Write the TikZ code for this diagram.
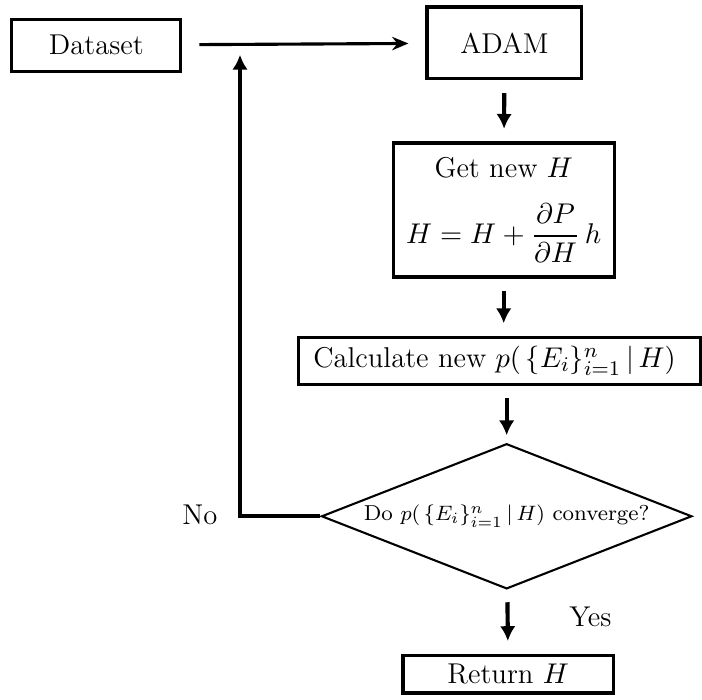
\documentclass[tikz,border=0pt]{standalone}
\usepackage{amsmath}
\usetikzlibrary{shapes.geometric, arrows.meta, positioning, calc}

\begin{document}
\begin{tikzpicture}[
    % Node styles
    every node/.style={
        font=\fontsize{11}{13.5}\selectfont
    },
    procbox/.style={
        rectangle,
        draw=black,
        very thick,
        inner sep=2pt,
        align=center
    },
    decbox/.style={
        diamond,
        draw=black,
        thick,
        aspect=2.55,
        inner sep=0pt,
        minimum width=5cm,
        minimum height=1.96cm,
        font=\fontsize{8.3}{10}\selectfont,
        align=center
    },
    arrow/.style={
        -{Latex[length=0.2cm, width=0.21cm]},
        ultra thick,
        black,
        shorten >=0.17cm,
        shorten <=0.17cm
    }
]
\useasboundingbox (0, 0) rectangle (9.477, -9.45);

% === Input and optimiser ===
\node[procbox, minimum width=2.28cm, minimum height=0.70cm] (data) at (1.30, -0.61) {Dataset};
\node[procbox, minimum width=2.09cm, minimum height=0.97cm] (adam) at (6.81, -0.58) {ADAM};

% === Update step ===
\node[procbox, minimum width=2.98cm, minimum height=1.81cm] (newh) at (6.80, -2.835) {
    Get new $H$\\[9pt]
    $H = H + \dfrac{\partial P}{\partial H}\, h$
};
\node[procbox, minimum width=5.43cm, minimum height=0.63cm, inner sep=0pt] (calc) at (6.74, -4.87) {
    Calculate new $p(\,\{E_i\}_{i=1}^{n}\,|\,H)$
};

% === Convergence test ===
\node[decbox] (conv) at (6.84, -6.97) {Do $p(\,\{E_i\}_{i=1}^{n}\,|\,H)$ converge?};
\node[procbox, minimum width=2.84cm, minimum height=0.51cm] (ret) at (6.86, -9.10) {Return $H$};

\node (no) at (2.70, -6.95) {No};
\node (yes) at (7.97, -8.33) {Yes};

% === Arrows ===
\draw[-{Stealth[length=0.22cm, width=0.18cm]}, very thick, shorten >=0.23cm, shorten <=0.23cm] (data) -- (adam);
\draw[arrow] (adam) -- (newh);
\draw[arrow] (newh.south) -- (newh.south |- calc.north);
\draw[arrow, shorten >=0.1cm] (conv.north |- calc.south) -- (conv.north);
\draw[arrow] (conv) -- (ret);

% === Loop back ===
\coordinate (turn) at (3.24, -6.97);
\coordinate (back) at (3.24, -0.74);
\draw[-{Latex[length=0.2cm, width=0.21cm]}, ultra thick] (conv.west) -- (turn) -- (back);

\end{tikzpicture}
\end{document}
